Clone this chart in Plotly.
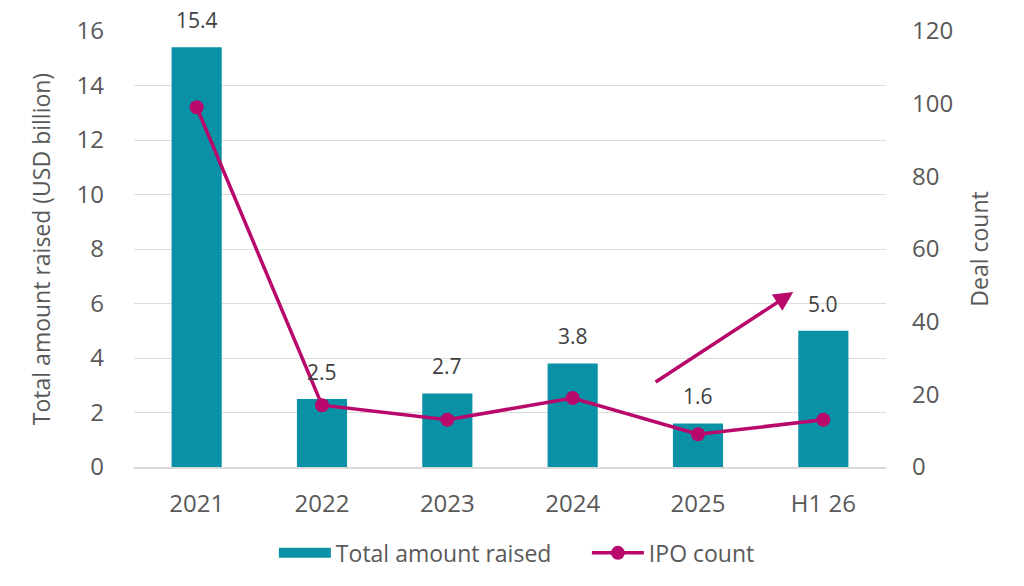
import plotly.graph_objects as go

# values
years = ["2021", "2022", "2023", "2024", "2025", "H1 26"]
amount_raised = [15.4, 2.5, 2.7, 3.8, 1.6, 5.0]
ipo_count = [99, 17, 13, 19, 9, 13]
left_ticks = [0, 2, 4, 6, 8, 10, 12, 14, 16]
right_ticks = [0, 20, 40, 60, 80, 100, 120]

BAR_COLOR = "#0a91a6"
LINE_COLOR = "#b8086c"
TEXT_GRAY = "#595959"
FONT = "Open Sans, Noto Sans, sans-serif"

fig = go.Figure()

fig.add_trace(
    go.Bar(
        x=years,
        y=amount_raised,
        name="Total amount raised",
        marker={"color": BAR_COLOR, "line": {"width": 0}},
        showlegend=False,
    )
)

# legend proxy so the bar swatch is a wide rectangle like the original
fig.add_trace(
    go.Scatter(
        x=[None],
        y=[None],
        name="Total amount raised",
        mode="lines",
        line={"color": BAR_COLOR, "width": 12},
    )
)

fig.add_trace(
    go.Scatter(
        x=years,
        y=ipo_count,
        name="IPO count",
        yaxis="y2",
        mode="lines+markers",
        line={"color": LINE_COLOR, "width": 3.5},
        marker={"color": LINE_COLOR, "size": 14},
    )
)

# value labels sit a little higher above the bars than plotly's "outside"
# (category index, since "2021" etc. would be read as numbers)
for i, value in enumerate(amount_raised):
    fig.add_annotation(
        x=i, y=value, xref="x", yref="y",
        text=f"{value:.1f}", showarrow=False,
        yanchor="bottom", yshift=11,
        font={"size": 21, "color": "#404040"},
    )

# trend arrow from between 2024/2025 up towards H1 26
fig.add_annotation(
    x=4.76, y=6.42, xref="x", yref="y",
    ax=3.65, ay=3.08, axref="x", ayref="y",
    text="", showarrow=True,
    arrowhead=2, arrowsize=1.1, arrowwidth=3.5, arrowcolor=LINE_COLOR,
)

fig.update_layout(
    width=1024,
    height=586,
    template="plotly_white",
    plot_bgcolor="white",
    paper_bgcolor="white",
    font={"family": FONT, "color": TEXT_GRAY, "size": 24},
    margin={"l": 126, "r": 146, "t": 23, "b": 127, "pad": 0, "autoexpand": False},
    bargap=0.6,
    showlegend=True,
    legend={
        "orientation": "h",
        "x": 0.186,
        "xanchor": "left",
        "y": -0.197,
        "yanchor": "middle",
        "font": {"size": 23, "color": TEXT_GRAY},
        "itemwidth": 52,
        "entrywidth": 246,
        "entrywidthmode": "pixels",
    },
    xaxis={
        "type": "category",
        "categoryorder": "array",
        "categoryarray": years,
        "range": [-0.5, len(years) - 0.5],
        "automargin": False,
        "showgrid": False,
        "showline": True,
        "linecolor": "#d9d9d9",
        "linewidth": 1.5,
        "ticks": "",
        "ticklabelstandoff": 14,
        "tickfont": {"size": 24, "color": TEXT_GRAY},
    },
    yaxis={
        "automargin": False,
        "range": [0, 16],
        "tickvals": left_ticks,
        "showgrid": True,
        "gridcolor": "#dcdcdc",
        "gridwidth": 1.2,
        "zeroline": False,
        "ticklabelstandoff": 29,
        "tickfont": {"size": 24, "color": TEXT_GRAY},
        "title": {
            "text": "Total amount raised (USD billion)",
            "font": {"size": 23, "color": TEXT_GRAY},
            "standoff": 19,
        },
    },
    yaxis2={
        "automargin": False,
        "range": [0, 120],
        "tickvals": right_ticks,
        "overlaying": "y",
        "side": "right",
        "showgrid": False,
        "zeroline": False,
        "ticklabelstandoff": 25,
        "tickfont": {"size": 24, "color": TEXT_GRAY},
        "title": {
            "text": "Deal count",
            "font": {"size": 23, "color": TEXT_GRAY},
            "standoff": 19,
        },
    },
)

fig.write_html("out.html")
